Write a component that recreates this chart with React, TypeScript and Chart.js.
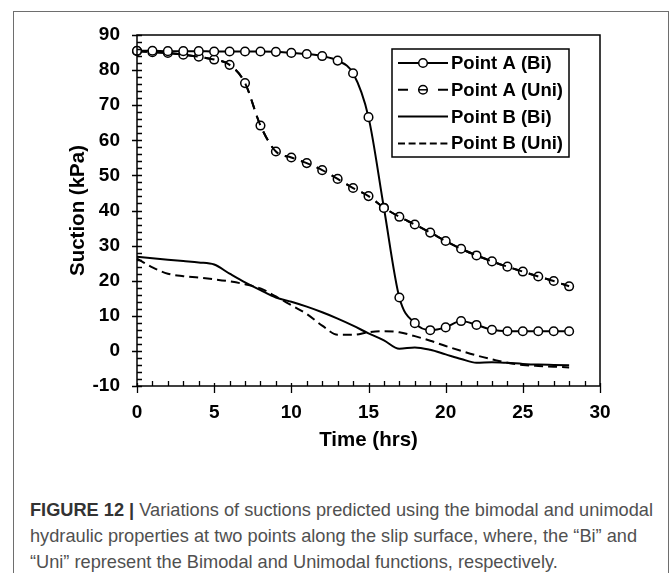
import React, { useEffect, useRef } from "react";
import { Chart, registerables } from "chart.js";

Chart.register(...registerables);

const hours = [0, 1, 2, 3, 4, 5, 6, 7, 8, 9, 10, 11, 12, 13, 14, 15, 16, 17, 18, 19, 20, 21, 22, 23, 24, 25, 26, 27, 28];
const pointABi = [85.5, 85.5, 85.4, 85.4, 85.4, 85.3, 85.3, 85.3, 85.3, 85.2, 84.9, 84.6, 84.0, 82.7, 79.1, 66.6, 40.7, 15.2, 7.9, 5.9, 6.7, 8.5, 7.4, 6.0, 5.6, 5.6, 5.6, 5.6, 5.6];
const pointAUni = [85.4, 85.1, 84.9, 84.4, 83.8, 83.0, 81.5, 76.3, 64.2, 56.8, 55.1, 53.5, 51.5, 49.0, 46.4, 44.1, 40.8, 38.2, 36.0, 33.7, 31.3, 29.1, 27.2, 25.5, 24.0, 22.6, 21.2, 19.9, 18.4];
const pointBBi = [26.8, 26.4, 26.0, 25.6, 25.2, 24.6, 22.0, 19.5, 17.3, 15.2, 14.0, 12.6, 11.0, 9.2, 7.2, 5.0, 3.0, 0.6, 1.0, 0.3, -1.0, -2.3, -3.4, -3.2, -3.4, -3.7, -3.9, -4.0, -4.1];
const pointBUni = [26.3, 23.8, 22.0, 21.3, 20.9, 20.4, 19.8, 19.0, 17.8, 15.5, 13.0, 10.5, 7.2, 4.6, 4.6, 5.3, 5.6, 5.3, 4.2, 2.9, 1.4, 0.0, -1.3, -2.4, -3.4, -4.0, -4.3, -4.5, -4.7];

const seriesNames = ["Point A (Bi)", "Point A (Uni)", "Point B (Bi)", "Point B (Uni)"];
const xMin = 0;
const xMax = 30;
const xStep = 5;
const yMin = -10;
const yMax = 90;
const yStep = 10;
const xTitle = "Time (hrs)";
const yTitle = "Suction (kPa)";
const captionBold = "FIGURE 12 |";
const captionLines = [
  " Variations of suctions predicted using the bimodal and unimodal",
  "hydraulic properties at two points along the slip surface, where, the \u201cBi\u201d and",
  "\u201cUni\u201d represent the Bimodal and Unimodal functions, respectively.",
];

const FONT = "'Liberation Sans', Arial, sans-serif";

const toXY = (ys: number[]) => hours.map((h, i) => ({ x: h, y: ys[i] }));

const framePlugin = {
  id: "frameTicks",
  afterDatasetsDraw(chart: any) {
    const { ctx, chartArea } = chart;
    const xs = chart.scales.x;
    const ys = chart.scales.y;
    const { left, right, top, bottom } = chartArea;
    ctx.save();
    ctx.strokeStyle = "#000";
    ctx.lineWidth = 1.5;
    ctx.strokeRect(left, top, right - left, bottom - top);
    ctx.lineWidth = 1.3;
    ctx.beginPath();
    for (let v = yMin; v <= yMax; v += 2) {
      const py = Math.round(ys.getPixelForValue(v)) + 0.5;
      if (v % yStep === 0) {
        ctx.moveTo(left - 5, py);
        ctx.lineTo(left + 5, py);
      } else {
        ctx.moveTo(left, py);
        ctx.lineTo(left + 5, py);
      }
    }
    for (let v = xMin; v <= xMax; v += 1) {
      const px = Math.round(xs.getPixelForValue(v)) + 0.5;
      if (v % xStep === 0) {
        ctx.moveTo(px, bottom - 3);
        ctx.lineTo(px, bottom + 7);
      } else {
        ctx.moveTo(px, bottom);
        ctx.lineTo(px, bottom - 5);
      }
    }
    ctx.stroke();
    ctx.restore();
  },
};

const legendPlugin = {
  id: "boxLegend",
  afterDraw(chart: any) {
    const { ctx, chartArea } = chart;
    const bx = chartArea.left + 255;
    const by = chartArea.top + 14;
    const bw = 177;
    const bh = 108;
    ctx.save();
    ctx.fillStyle = "#fff";
    ctx.fillRect(bx, by, bw, bh);
    ctx.strokeStyle = "#000";
    ctx.lineWidth = 1.5;
    ctx.strokeRect(bx, by, bw, bh);
    const rowH = 26.8;
    const sx0 = bx + 6;
    const sx1 = bx + 56;
    const mid = (sx0 + sx1) / 2;
    seriesNames.forEach((name, i) => {
      const y = by + 14 + i * rowH;
      ctx.strokeStyle = "#000";
      ctx.lineWidth = 2;
      ctx.setLineDash([]);
      ctx.beginPath();
      if (i === 0 || i === 2) {
        ctx.moveTo(sx0, y);
        ctx.lineTo(sx1, y);
        ctx.stroke();
      } else if (i === 1) {
        ctx.moveTo(sx0, y);
        ctx.lineTo(sx0 + 10, y);
        ctx.moveTo(sx1 - 10, y);
        ctx.lineTo(sx1, y);
        ctx.stroke();
      } else {
        ctx.setLineDash([7, 3.6]);
        ctx.moveTo(sx0, y);
        ctx.lineTo(sx1, y);
        ctx.stroke();
        ctx.setLineDash([]);
      }
      if (i === 0 || i === 1) {
        ctx.beginPath();
        ctx.arc(mid, y, 4.3, 0, Math.PI * 2);
        ctx.fillStyle = "#fff";
        ctx.fill();
        ctx.lineWidth = 1.5;
        ctx.stroke();
        if (i === 1) {
          ctx.beginPath();
          ctx.moveTo(mid - 4, y);
          ctx.lineTo(mid + 4, y);
          ctx.stroke();
        }
      }
      ctx.fillStyle = "#000";
      ctx.font = `bold 18.5px ${FONT}`;
      ctx.textAlign = "left";
      ctx.textBaseline = "middle";
      ctx.fillText(name, sx1 + 3, y + 1);
    });
    ctx.restore();
  },
};

export default function App() {
  const canvasRef = useRef<HTMLCanvasElement | null>(null);

  useEffect(() => {
    if (!canvasRef.current) return;
    const tickFont = { family: FONT, size: 19, weight: "bold" as const };
    const titleFont = { family: FONT, size: 20.5, weight: "bold" as const };
    const marker = {
      pointRadius: 4.3,
      pointBackgroundColor: "#fff",
      pointBorderColor: "#000",
      pointBorderWidth: 1.5,
    };
    const chart = new Chart(canvasRef.current, {
      type: "line",
      data: {
        datasets: [
          {
            label: seriesNames[3],
            data: toXY(pointBUni),
            borderColor: "#000",
            borderWidth: 2,
            borderDash: [9, 5],
            pointRadius: 0,
            cubicInterpolationMode: "monotone",
            clip: false,
            order: 5,
          },
          {
            label: seriesNames[2],
            data: toXY(pointBBi),
            borderColor: "#000",
            borderWidth: 2,
            pointRadius: 0,
            cubicInterpolationMode: "monotone",
            clip: false,
            order: 4,
          },
          {
            label: seriesNames[1],
            data: toXY(pointAUni),
            borderColor: "#000",
            borderWidth: 2,
            borderDash: [10, 7],
            cubicInterpolationMode: "monotone",
            clip: false,
            order: 3,
            ...marker,
          },
          {
            label: seriesNames[1] + " line",
            data: toXY(pointAUni),
            borderColor: "#000",
            borderWidth: 2,
            borderDash: [10, 7],
            pointRadius: 0,
            cubicInterpolationMode: "monotone",
            clip: false,
            order: 2,
          },
          {
            label: seriesNames[0],
            data: toXY(pointABi),
            borderColor: "#000",
            borderWidth: 2,
            cubicInterpolationMode: "monotone",
            clip: false,
            order: 1,
            ...marker,
          },
        ],
      },
      options: {
        responsive: false,
        animation: false,
        events: [],
        layout: { padding: { left: 0, right: 72, top: 35, bottom: 0 } },
        plugins: { legend: { display: false }, tooltip: { enabled: false } },
        scales: {
          x: {
            type: "linear",
            min: xMin,
            max: xMax,
            grid: { display: false },
            border: { display: false },
            ticks: { stepSize: xStep, autoSkip: false, maxRotation: 0, padding: 7, color: "#000", font: tickFont },
            title: { display: true, text: xTitle, color: "#000", font: titleFont, padding: { top: 0, bottom: 17 } },
            afterFit: (s: any) => {
              s.height = 84;
            },
          },
          y: {
            type: "linear",
            min: yMin,
            max: yMax,
            grid: { display: false },
            border: { display: false },
            ticks: { stepSize: yStep, autoSkip: false, padding: 9, color: "#000", font: tickFont },
            title: { display: true, text: yTitle, color: "#000", font: titleFont, padding: { top: 66.5, bottom: 0 } },
            afterFit: (s: any) => {
              s.width = 137;
            },
          },
        },
      },
      plugins: [framePlugin, legendPlugin],
    } as any);
    return () => chart.destroy();
  }, []);

  const lineStyle = { transform: "scaleX(0.958)", transformOrigin: "0 0" } as const;

  return (
    <div style={{ position: "fixed", left: 0, top: 0, width: 672, height: 573, background: "#fff", overflow: "hidden" }}>
      <div
        style={{
          position: "absolute",
          left: 13,
          top: 11,
          width: 656,
          height: 620,
          border: "1px solid #6e6e6e",
          boxSizing: "border-box",
        }}
      />
      <canvas ref={canvasRef} width={672} height={470} style={{ position: "absolute", left: 0, top: 0, width: 672, height: 470 }} />
      <div
        style={{
          position: "absolute",
          left: 30,
          top: 497,
          width: 700,
          fontFamily: "'Liberation Sans', Arial, sans-serif",
          fontSize: 19,
          lineHeight: "26px",
          color: "#505050",
          whiteSpace: "nowrap",
        }}
      >
        <div style={lineStyle}>
          <span style={{ fontWeight: "bold", color: "#333" }}>{captionBold}</span>
          {captionLines[0]}
        </div>
        <div style={lineStyle}>{captionLines[1]}</div>
        <div style={lineStyle}>{captionLines[2]}</div>
      </div>
    </div>
  );
}
